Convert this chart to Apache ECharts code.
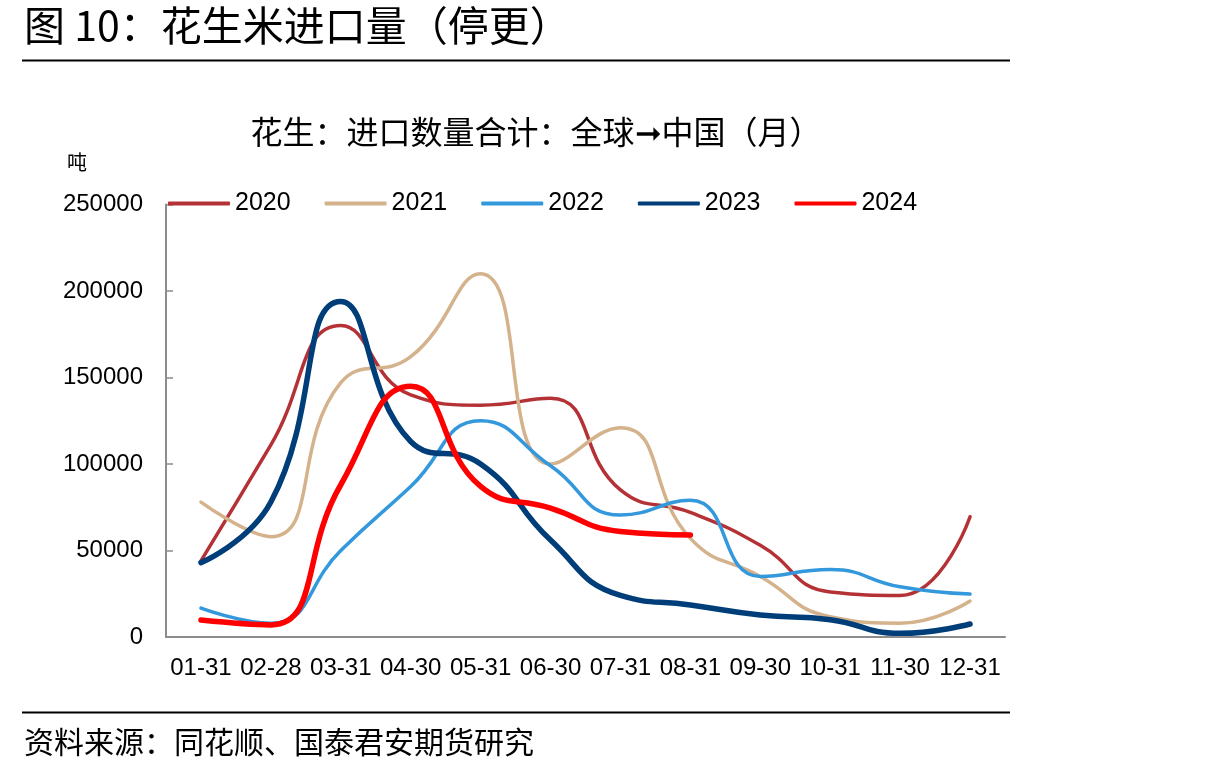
<!DOCTYPE html>
<html>
<head>
<meta charset="utf-8">
<script src="https://cdn.jsdelivr.net/npm/echarts@6/dist/echarts.min.js"></script>
<style>
  html, body { margin: 0; padding: 0; background: #fff; }
  #main { width: 1213px; height: 776px; }
</style>
</head>
<body>
<div id="main"></div>
<script>
// 月份标签
let months = ['01-31', '02-28', '03-31', '04-30', '05-31', '06-30',
  '07-31', '08-31', '09-30', '10-31', '11-30', '12-31'];

// 进口量（吨）
let y2020 = [44000, 111000, 180000, 140000, 134000, 138000, 85000, 72000, 53000, 26000, 24000, 69500];
let y2021 = [78000, 58000, 147000, 162000, 210000, 100000, 121000, 57000, 35000, 11700, 8000, 20800];
let y2022 = [16700, 8000, 50000, 87000, 125000, 99000, 70500, 79000, 35000, 39000, 29000, 24800];
let y2023 = [43000, 78000, 194000, 113000, 100000, 56000, 24000, 18500, 12700, 10000, 2100, 7500];
let y2024 = [9800, 7000, 88000, 145000, 87000, 74500, 61000, 59000];

let yTicks = [0, 50000, 100000, 150000, 200000, 250000];

let chartDom = document.getElementById('main');
let chart = echarts.init(chartDom);
let option;

const cjk = '"Noto Sans CJK SC", sans-serif';
const num = '"Liberation Sans", Arial, sans-serif';

function makeSeries(name, data, color, width) {
  return {
    name: name,
    type: 'line',
    smooth: 0.5,
    showSymbol: false,
    symbol: 'none',
    data: data,
    lineStyle: { color: color, width: width, cap: 'round', join: 'round' },
    itemStyle: { color: color }
  };
}

option = {
  backgroundColor: '#ffffff',
  animation: false,
  title: {
    text: '花生：进口数量合计：全球➞中国（月）',
    left: 531,
    top: 111,
    textAlign: 'center',
    textStyle: { fontFamily: cjk, fontSize: 32, fontWeight: 'normal', color: '#000' }
  },
  legend: {
    left: 163,
    top: 186,
    itemWidth: 62,
    itemHeight: 4,
    itemGap: 34,
    icon: 'roundRect',
    textStyle: { fontFamily: num, fontSize: 25, color: '#000' },
    data: ['2020', '2021', '2022', '2023', '2024']
  },
  grid: {
    left: 166,
    right: 208,
    top: 204.5,
    bottom: 139,
    containLabel: false
  },
  xAxis: {
    type: 'category',
    boundaryGap: true,
    data: months,
    axisLine: { lineStyle: { color: '#8c8c8c', width: 2 } },
    axisTick: { inside: true, length: 8, lineStyle: { color: '#8c8c8c', width: 1.5 } },
    axisLabel: { interval: 0, margin: 19, fontFamily: num, fontSize: 24, color: '#000' },
    splitLine: { show: false }
  },
  yAxis: {
    type: 'value',
    min: yTicks[0],
    max: yTicks[yTicks.length - 1],
    interval: 50000,
    axisLine: { show: true, lineStyle: { color: '#8c8c8c', width: 2 } },
    axisTick: { show: true, inside: true, length: 7, lineStyle: { color: '#8c8c8c', width: 1.5 } },
    axisLabel: {
      margin: 23,
      fontFamily: num,
      fontSize: 24,
      color: '#000',
      formatter: function (v) { return String(v); }
    },
    splitLine: { show: false }
  },
  graphic: [
    {
      type: 'text',
      left: 24,
      top: 5,
      style: { text: '图 10：花生米进口量（停更）', font: '41px ' + cjk, fill: '#000' }
    },
    {
      type: 'line',
      shape: { x1: 22, y1: 60.5, x2: 1010, y2: 60.5 },
      style: { stroke: '#000', lineWidth: 2 }
    },
    {
      type: 'text',
      left: 67,
      top: 152,
      style: { text: '吨', font: '20px ' + cjk, fill: '#000' }
    },
    {
      type: 'line',
      shape: { x1: 22, y1: 712.5, x2: 1010, y2: 712.5 },
      style: { stroke: '#000', lineWidth: 2 }
    },
    {
      type: 'text',
      left: 24,
      top: 727,
      style: { text: '资料来源：同花顺、国泰君安期货研究', font: '30px ' + cjk, fill: '#000' }
    }
  ],
  series: [
    makeSeries('2020', y2020, '#B43236', 3.5),
    makeSeries('2021', y2021, '#D4B28C', 3.5),
    makeSeries('2022', y2022, '#3398DC', 3.5),
    makeSeries('2023', y2023, '#003E7A', 5.5),
    makeSeries('2024', y2024, '#FF0000', 5.5)
  ]
};

option && chart.setOption(option);
</script>
</body>
</html>
